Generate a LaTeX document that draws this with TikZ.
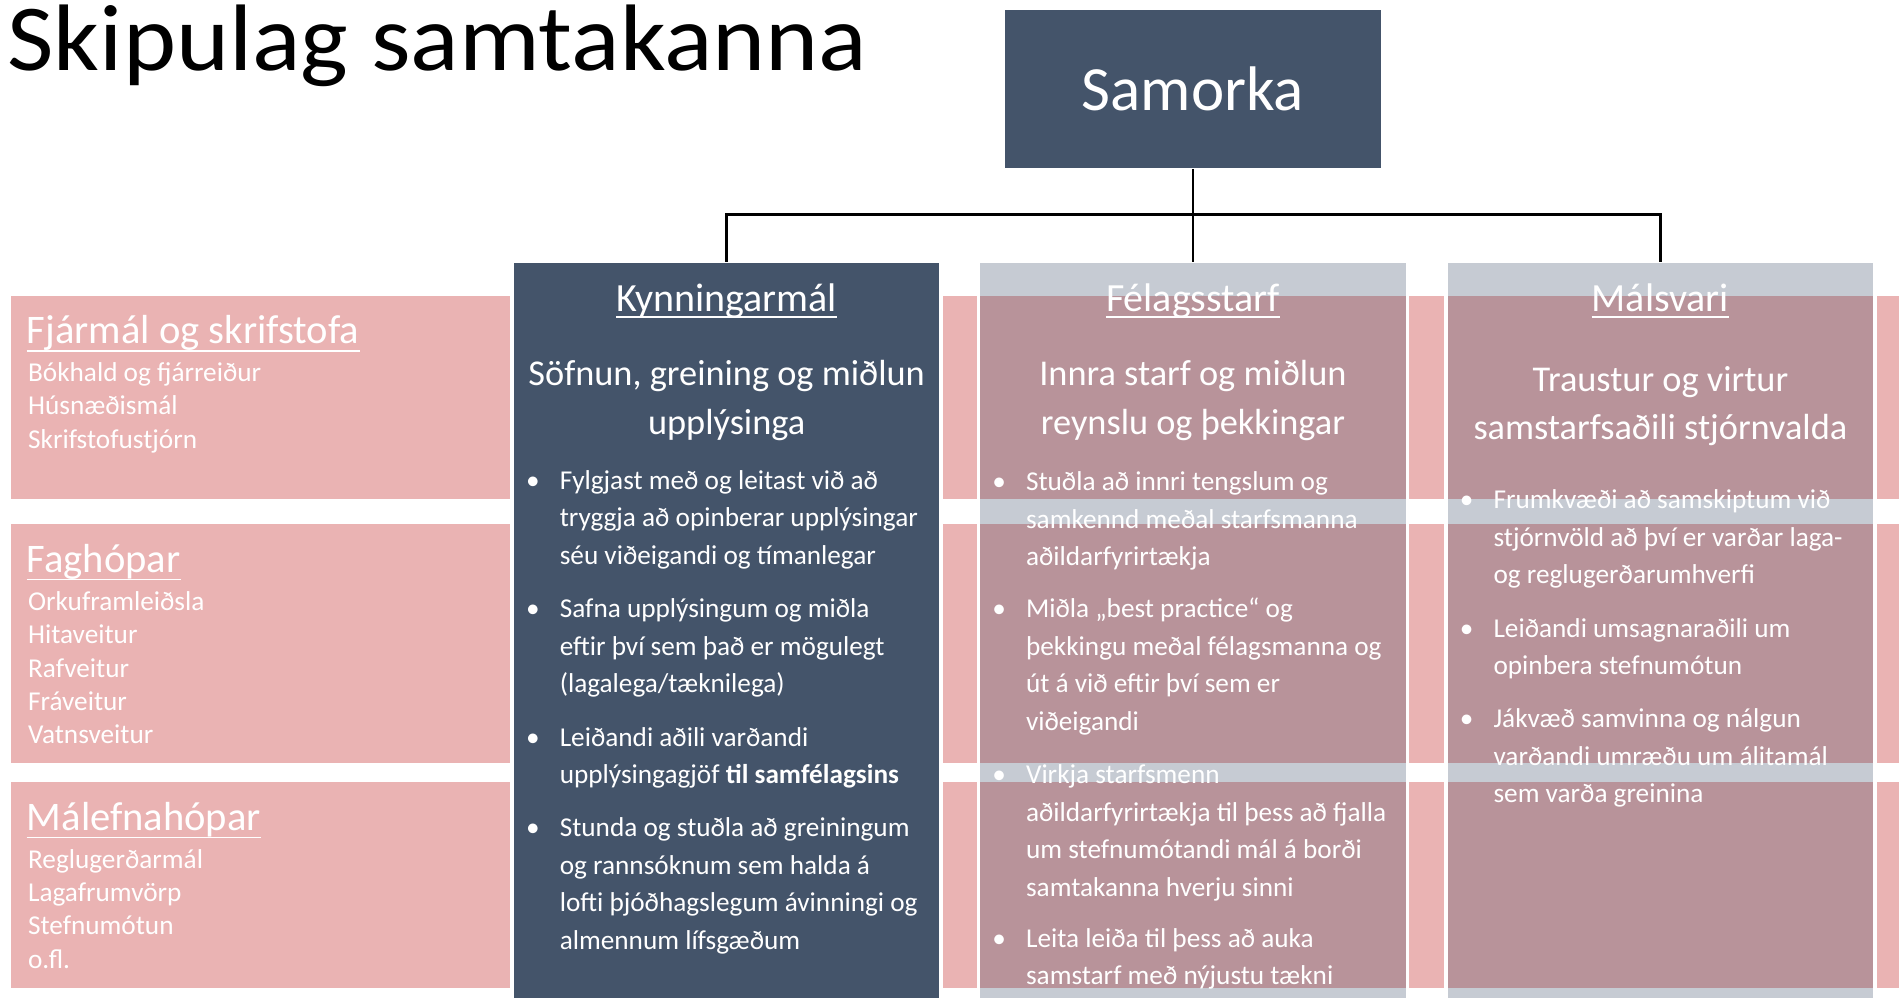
\documentclass[tikz,border=0pt]{standalone}
\usepackage{graphicx}
\usepackage{fontspec}
\setmainfont{Carlito}
\definecolor{slate}{HTML}{44546A}
\definecolor{pinkband}{HTML}{EAB3B3}
\definecolor{colgray}{HTML}{C6CBD3}
\definecolor{mauve}{HTML}{B8939A}
\newcommand\Lh[1]{\hbox{#1}}
\begin{document}
\begin{tikzpicture}[x=1pt,y=-1pt,
  colbox/.style={minimum width=354pt, minimum height=660pt, anchor=north, inner sep=0pt, draw=none},
  hdr/.style={text=white, font=\fontsize{33}{40}\selectfont, anchor=base, inner sep=0pt},
  sub/.style={text=white, font=\fontsize{30}{41}\selectfont, anchor=base, inner sep=0pt},
  btxt/.style={text=white, font=\fontsize{22.5}{31}\selectfont, anchor=base west, inner sep=0pt},
  bdot/.style={text=white, font=\fontsize{22.5}{31}\selectfont, anchor=base, inner sep=0pt},
  lhdr/.style={text=white, font=\fontsize{33.5}{40}\selectfont, anchor=base west, inner sep=0pt},
  litem/.style={text=white, font=\fontsize{22.5}{27.5}\selectfont, anchor=base west, inner sep=0pt},
  uline/.style={draw=white, line width=1.5pt},
  conn/.style={draw=black, line width=2pt},
  colborder/.style={draw=white, line width=3pt}
]
\useasboundingbox (0,0) rectangle (1568,824);
\clip (0,0) rectangle (1568,824);

% title
\node[anchor=base west, inner sep=0pt, font=\fontsize{78}{86}\selectfont] (title) at (6,58) {\scalebox{1.07}[1]{Skipulag samtakanna}};

% pink bands
\fill[pinkband] (9,244) rectangle (1580,412);
\fill[pinkband] (9,433) rectangle (1580,630);
\fill[pinkband] (9,646) rectangle (1580,816);

% columns
\node[colbox, fill=slate] (kynn) at (600,216) {};
\node[colbox, fill=colgray] (felag) at (985,216) {};
\node[colbox, fill=colgray] (mals) at (1371,216) {};
\foreach \cx in {985,1371}{
  \fill[mauve] (\cx-177,244) rectangle (\cx+177,412);
  \fill[mauve] (\cx-177,433) rectangle (\cx+177,630);
  \fill[mauve] (\cx-177,646) rectangle (\cx+177,816);
}
\foreach \n in {kynn,felag,mals}{
  \draw[colborder] (\n.north west) rectangle (\n.south east);
}

% Samorka
\node[fill=slate, draw=white, line width=1pt, minimum width=311pt, minimum height=131pt, inner sep=0pt,
      text=white, font=\fontsize{52}{60}\selectfont] (samorka) at (985,73.5) {Samorka};

% connectors
\coordinate (j) at (985,177);
\draw[conn] (samorka.south) -- (felag.north);
\draw[conn] (j) -| (kynn.north);
\draw[conn] (j) -| (mals.north);

% column headers
\node[hdr] (kh) at (600,257) {Kynningarmál};
\node[hdr] (fh) at (985,257) {Félagsstarf};
\node[hdr] (mh) at (1371,257) {Málsvari};
\foreach \h in {kh,fh,mh}{
  \draw[uline] ([yshift=-5pt]\h.base west) -- ([yshift=-5pt]\h.base east);
}

% subtitles
\node[sub] (ks1) at (600,318) {Söfnun, greining og miðlun};
\node[sub] (ks2) at (600,359) {upplýsinga};
\node[sub] (fs1) at (985,318) {Innra starf og miðlun};
\node[sub] (fs2) at (985,359) {reynslu og þekkingar};
\node[sub] (ms1) at (1371,323) {Traustur og virtur};
\node[sub] (ms2) at (1371,363) {samstarfsaðili stjórnvalda};

% Kynningarmál bullets
\node[bdot] (kd1) at (440,404) {•};
\node[btxt] (kb1) at (462,404) {\vtop{\Lh{Fylgjast með og leitast við að}\Lh{tryggja að opinberar upplýsingar}\Lh{séu viðeigandi og tímanlegar}}};
\node[bdot] (kd2) at (440,510) {•};
\node[btxt] (kb2) at (462,510) {\vtop{\Lh{Safna upplýsingum og miðla}\Lh{eftir því sem það er mögulegt}\Lh{(lagalega/tæknilega)}}};
\node[bdot] (kd3) at (440,616) {•};
\node[btxt] (kb3) at (462,616) {\vtop{\Lh{Leiðandi aðili varðandi}\Lh{upplýsingagjöf \textbf{til samfélagsins}}}};
\node[bdot] (kd4) at (440,691) {•};
\node[btxt] (kb4) at (462,691) {\vtop{\Lh{Stunda og stuðla að greiningum}\Lh{og rannsóknum sem halda á}\Lh{lofti þjóðhagslegum ávinningi og}\Lh{almennum lífsgæðum}}};

% Félagsstarf bullets
\node[bdot] (fd1) at (825,405) {•};
\node[btxt] (fb1) at (847,405) {\vtop{\Lh{Stuðla að innri tengslum og}\Lh{samkennd meðal starfsmanna}\Lh{aðildarfyrirtækja}}};
\node[bdot] (fd2) at (825,510) {•};
\node[btxt] (fb2) at (847,510) {\vtop{\Lh{Miðla „best practice“ og}\Lh{þekkingu meðal félagsmanna og}\Lh{út á við eftir því sem er}\Lh{viðeigandi}}};
\node[bdot] (fd3) at (825,647) {•};
\node[btxt] (fb3) at (847,647) {\vtop{\Lh{Virkja starfsmenn}\Lh{aðildarfyrirtækja til þess að fjalla}\Lh{um stefnumótandi mál á borði}\Lh{samtakanna hverju sinni}}};
\node[bdot] (fd4) at (825,782) {•};
\node[btxt] (fb4) at (847,782) {\vtop{\Lh{Leita leiða til þess að auka}\Lh{samstarf með nýjustu tækni}}};

% Málsvari bullets
\node[bdot] (md1) at (1211,420) {•};
\node[btxt] (mb1) at (1233,420) {\vtop{\Lh{Frumkvæði að samskiptum við}\Lh{stjórnvöld að því er varðar laga-}\Lh{og reglugerðarumhverfi}}};
\node[bdot] (md2) at (1211,526) {•};
\node[btxt] (mb2) at (1233,526) {\vtop{\Lh{Leiðandi umsagnaraðili um}\Lh{opinbera stefnumótun}}};
\node[bdot] (md3) at (1211,601) {•};
\node[btxt] (mb3) at (1233,601) {\vtop{\Lh{Jákvæð samvinna og nálgun}\Lh{varðandi umræðu um álitamál}\Lh{sem varða greinina}}};

% left groups
\node[lhdr] (lh1) at (22,284) {Fjármál og skrifstofa};
\node[litem] (li1) at (23,315) {\vtop{\Lh{Bókhald og fjárreiður}\Lh{Húsnæðismál}\Lh{Skrifstofustjórn}}};
\node[lhdr] (lh2) at (22,473) {Faghópar};
\node[litem] (li2) at (23,504) {\vtop{\Lh{Orkuframleiðsla}\Lh{Hitaveitur}\Lh{Rafveitur}\Lh{Fráveitur}\Lh{Vatnsveitur}}};
\node[lhdr] (lh3) at (22,686) {Málefnahópar};
\node[litem] (li3) at (23,717) {\vtop{\Lh{Reglugerðarmál}\Lh{Lagafrumvörp}\Lh{Stefnumótun}\Lh{o.fl.}}};
\foreach \h in {lh1,lh2,lh3}{
  \draw[uline] ([yshift=-5.5pt]\h.base west) -- ([yshift=-5.5pt]\h.base east);
}
\end{tikzpicture}
\end{document}
